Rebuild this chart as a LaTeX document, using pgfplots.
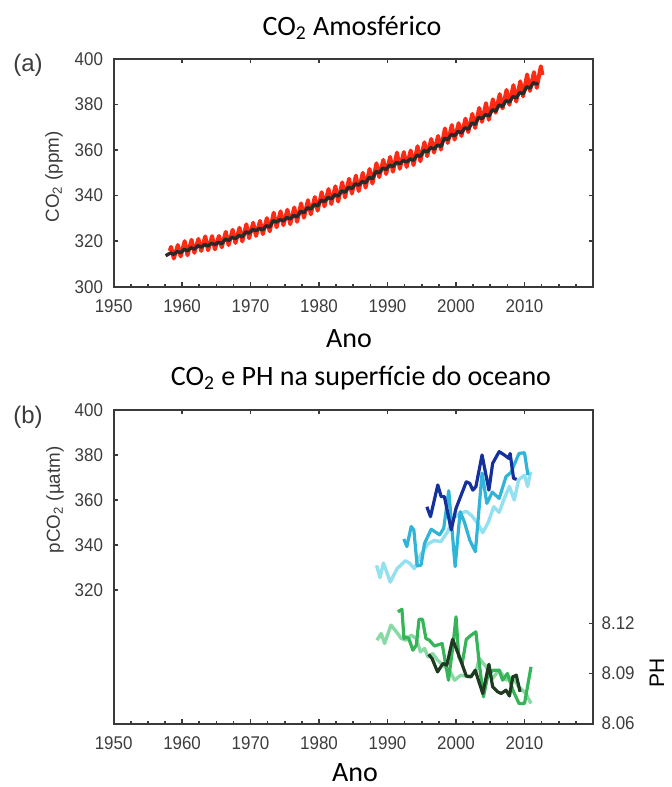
\documentclass[border=0pt]{standalone}
\usepackage{fontspec}
\usepackage{pgfplots}
\pgfplotsset{compat=1.18}
\setmainfont{Carlito}
\newfontfamily\arialf{Liberation Sans}
\newfontfamily\tickf[FakeStretch=0.92]{Liberation Sans}

\definecolor{axgray}{HTML}{3A3A3A}
\definecolor{lblgray}{HTML}{3C3C3C}
\definecolor{mlred}{HTML}{FF2A14}
\definecolor{spblack}{HTML}{2A2A2A}
\definecolor{bluelight}{HTML}{93E0F0}
\definecolor{bluemid}{HTML}{30B4D8}
\definecolor{bluedark}{HTML}{15309A}
\definecolor{greenlight}{HTML}{8AD9A5}
\definecolor{greenmid}{HTML}{35B558}
\definecolor{greendark}{HTML}{1E3A20}

\pgfplotsset{
  panel/.style={
    scale only axis, anchor=north west,
    width=239.7pt,
    xmin=1950, xmax=2020,
    tick align=inside,
    major tick length=2.2pt, minor tick length=1.4pt,
    axis line style={axgray, line width=1pt},
    every tick/.style={axgray, line width=0.8pt},
    ticklabel style={font=\tickf\fontsize{9.2}{10}\selectfont, text=lblgray},
    xticklabel style={yshift=-3pt},
    yticklabel style={xshift=-1.8pt},
    clip=false,
  },
}

\begin{document}
\begin{tikzpicture}
\path[use as bounding box] (0pt,0pt) rectangle (336pt,-393.5pt);

% ---------- (a) atmospheric CO2 ----------
\begin{axis}[panel,
  at={(56.8pt,-29.5pt)}, height=113.85pt,
  ymin=300, ymax=400,
  xtick={1950,1960,...,2020},
  xticklabels={1950,1960,1970,1980,1990,2000,2010,},
  minor x tick num=3, xtick pos=bottom,
  ytick={300,320,...,400},
  yticklabels={300,320,340,360,380,400},
  ytick pos=both,
]
\addplot[mlred, line width=2pt, line join=round] coordinates {
(1958.2,315.7)
(1958.38,317.5)(1958.79,312.4)
(1959.38,318.3)(1959.79,313.3)
(1960.38,320.0)(1960.79,313.8)
(1961.38,320.6)(1961.79,314.9)
(1962.38,321.0)(1962.79,315.7)
(1963.38,322.1)(1963.79,316.0)
(1964.38,322.2)(1964.79,316.4)
(1965.38,322.3)(1965.79,317.3)
(1966.38,324.1)(1966.79,318.3)
(1967.38,325.0)(1967.79,319.2)
(1968.38,325.9)(1968.79,319.9)
(1969.38,327.4)(1969.79,321.3)
(1970.38,328.1)(1970.79,322.3)
(1971.38,328.9)(1971.79,323.1)
(1972.38,330.1)(1972.79,324.3)
(1973.38,332.5)(1973.79,326.1)
(1974.38,333.1)(1974.79,327.0)
(1975.38,333.8)(1975.79,327.5)
(1976.38,334.8)(1976.79,328.5)
(1977.38,336.6)(1977.79,330.3)
(1978.38,338.0)(1978.79,331.8)
(1979.38,339.4)(1979.79,333.4)
(1980.38,341.5)(1980.79,335.3)
(1981.38,342.9)(1981.79,336.3)
(1982.38,344.1)(1982.79,337.4)
(1983.38,345.8)(1983.79,339.2)
(1984.38,347.4)(1984.79,340.9)
(1985.38,348.8)(1985.79,342.0)
(1986.38,350.0)(1986.79,343.5)
(1987.38,351.7)(1987.79,345.3)
(1988.38,354.2)(1988.79,348.1)
(1989.38,355.7)(1989.79,349.5)
(1990.38,357.0)(1990.79,350.5)
(1991.38,358.9)(1991.79,351.8)
(1992.38,359.1)(1992.79,352.6)
(1993.38,359.8)(1993.79,353.4)
(1994.38,361.7)(1994.79,355.1)
(1995.38,363.4)(1995.79,357.3)
(1996.38,364.9)(1996.79,358.9)
(1997.38,366.2)(1997.79,360.2)
(1998.38,369.5)(1998.79,363.1)
(1999.38,371.0)(1999.79,364.6)
(2000.38,371.8)(2000.79,366.2)
(2001.38,373.8)(2001.79,367.9)
(2002.38,375.9)(2002.79,369.7)
(2003.38,378.5)(2003.79,372.4)
(2004.38,380.6)(2004.79,373.3)
(2005.38,382.3)(2005.79,376.4)
(2006.38,384.6)(2006.79,378.3)
(2007.38,386.4)(2007.79,379.9)
(2008.38,388.5)(2008.79,381.3)
(2009.38,390.2)(2009.79,383.6)
(2010.38,393.2)(2010.79,386.0)
(2011.38,394.2)(2011.79,387.3)
(2012.38,396.8)(2012.62,393.0)
};
\addplot[spblack, line width=1.7pt, line join=round] coordinates {
(1957.6,313.6)
(1958.3,314.8)(1958.8,314.2)
(1959.3,315.5)(1959.8,314.9)
(1960.3,316.4)(1960.8,315.8)
(1961.3,317.1)(1961.8,316.5)
(1962.3,318.0)(1962.8,317.4)
(1963.3,318.5)(1963.8,317.9)
(1964.3,319.1)(1964.8,318.5)
(1965.3,319.5)(1965.8,318.9)
(1966.3,320.9)(1966.8,320.3)
(1967.3,321.7)(1967.8,321.1)
(1968.3,322.5)(1968.8,321.9)
(1969.3,324.1)(1969.8,323.5)
(1970.3,325.2)(1970.8,324.6)
(1971.3,325.6)(1971.8,325.0)
(1972.3,326.8)(1972.8,326.2)
(1973.3,329.0)(1973.8,328.4)
(1974.3,329.5)(1974.8,328.9)
(1975.3,330.4)(1975.8,329.8)
(1976.3,331.3)(1976.8,330.7)
(1977.3,333.1)(1977.8,332.5)
(1978.3,334.7)(1978.8,334.1)
(1979.3,336.1)(1979.8,335.5)
(1980.3,338.0)(1980.8,337.4)
(1981.3,339.2)(1981.8,338.6)
(1982.3,340.4)(1982.8,339.8)
(1983.3,342.1)(1983.8,341.5)
(1984.3,343.7)(1984.8,343.1)
(1985.3,345.2)(1985.8,344.6)
(1986.3,346.2)(1986.8,345.6)
(1987.3,348.0)(1987.8,347.4)
(1988.3,350.6)(1988.8,350.0)
(1989.3,352.1)(1989.8,351.5)
(1990.3,353.4)(1990.8,352.8)
(1991.3,354.6)(1991.8,354.0)
(1992.3,355.4)(1992.8,354.8)
(1993.3,356.1)(1993.8,355.5)
(1994.3,357.8)(1994.8,357.2)
(1995.3,359.8)(1995.8,359.2)
(1996.3,361.1)(1996.8,360.5)
(1997.3,362.2)(1997.8,361.6)
(1998.3,365.2)(1998.8,364.6)
(1999.3,366.9)(1999.8,366.3)
(2000.3,368.2)(2000.8,367.6)
(2001.3,369.8)(2001.8,369.2)
(2002.3,371.9)(2002.8,371.3)
(2003.3,374.4)(2003.8,373.8)
(2004.3,375.6)(2004.8,375.0)
(2005.3,377.7)(2005.8,377.1)
(2006.3,379.8)(2006.8,379.2)
(2007.3,381.7)(2007.8,381.1)
(2008.3,383.5)(2008.8,382.9)
(2009.3,385.3)(2009.8,384.7)
(2010.3,387.8)(2010.8,387.2)
(2011.3,389.6)(2011.8,389.0)
(2012.0,389.5)
};
\end{axis}
% top-edge major ticks of (a)
\begin{axis}[panel,
  at={(56.8pt,-29.5pt)}, height=113.85pt,
  ymin=300, ymax=400,
  axis x line*=top, axis y line=none,
  xtick={1960,1970,...,2010}, xticklabels={},
]
\end{axis}

% ---------- (b) ocean pCO2 ----------
\begin{axis}[panel,
  at={(56.8pt,-205pt)}, height=156.75pt,
  ymin=260.67, ymax=400,
  xtick={1950,1960,...,2020},
  xticklabels={1950,1960,1970,1980,1990,2000,2010,},
  minor x tick num=3, xtick pos=bottom,
  ytick={320,340,...,400},
  yticklabels={320,340,360,380,400},
  ytick pos=left,
]
\addplot[bluelight, line width=1.7pt, line join=round] coordinates {
(1988.4,331)(1988.9,325.5)(1989.4,332)(1990.4,323.5)(1991.4,329.5)
(1992.6,333)(1993.2,332)(1993.9,329.5)(1994.9,336)(1995.9,340.5)
(1996.8,342)(1997.8,341.5)(1998.8,346)(1999.6,352)(2000.6,354)
(2001.5,355)(2002.3,353)(2003.2,349.5)(2003.9,345.5)(2004.7,350)
(2005.5,357)(2006.3,354.5)(2007.05,360.7)(2007.8,366)(2008.5,360)
(2009.15,369)(2010.0,371)(2010.45,366)(2010.9,372.5)
};
\addplot[bluemid, line width=1.6pt, line join=round] coordinates {
(1992.38,342.7)(1992.82,339.3)(1993.45,348.2)(1993.84,346.7)(1994.33,330.7)
(1994.9,331.1)(1995.4,340.7)(1996.37,347.0)(1997.6,344.5)(1998.2,347.4)
(1998.94,364.1)(1999.87,330.4)(2000.6,354.8)(2001.2,350.4)(2002.0,342.2)
(2002.83,337.0)(2003.8,372.0)(2004.5,358.5)(2005.3,363.5)(2006.3,360.7)
(2007.3,370.4)(2008.0,372.2)(2009.2,380.7)(2010.0,381.0)(2010.5,371.1)
};
\addplot[bluedark, line width=1.6pt, line join=round] coordinates {
(1995.74,357.0)(1996.27,352.6)(1997.34,366.7)(1997.83,361.5)(1998.3,361.5)
(1999.3,346.7)(2000.0,356.3)(2001.5,368.1)(2002.0,367.4)(2002.45,364.4)
(2002.9,365.9)(2003.8,380.0)(2004.8,364.4)(2005.35,376.3)(2006.3,381.5)
(2007.05,380.0)(2007.7,378.5)(2007.9,380.7)(2008.4,369.6)(2008.85,369.2)
};
\end{axis}

% ---------- (b) ocean pH ----------
\begin{axis}[panel,
  at={(56.8pt,-205pt)}, height=156.75pt,
  ymin=8.06, ymax=8.2481,
  axis x line*=top, axis y line*=right,
  xtick={1960,1970,...,2010}, xticklabels={},
  ytick={8.06,8.09,8.12},
  yticklabels={8.06,8.09,8.12},
  yticklabel style={xshift=2.6pt},
]
\addplot[greenlight, line width=1.7pt, line join=round] coordinates {
(1988.45,8.110)(1989.08,8.114)(1989.57,8.108)(1990.5,8.119)(1991.3,8.115)
(1992.0,8.111)(1992.7,8.110)(1993.45,8.113)(1994.2,8.111)(1994.8,8.103)
(1995.4,8.105)(1995.9,8.100)(1996.6,8.102)(1997.3,8.098)(1998.1,8.095)
(1999.0,8.092)(1999.8,8.086)(2000.7,8.089)(2001.96,8.088)(2002.9,8.091)
(2003.4,8.099)(2004.4,8.094)(2005.3,8.087)(2006.3,8.092)(2007.3,8.086)
(2008.2,8.088)(2009.2,8.082)(2010.2,8.078)(2010.95,8.072)
};
\addplot[greenmid, line width=1.6pt, line join=round] coordinates {
(1991.5,8.127)(1992.1,8.1285)(1992.4,8.111)(1992.7,8.112)(1993.1,8.111)
(1993.7,8.104)(1994.2,8.107)(1994.6,8.1225)(1995.1,8.1225)(1995.6,8.111)
(1996.1,8.110)(1996.85,8.1065)(1997.97,8.108)(1998.9,8.086)(1999.5,8.105)
(2000.0,8.124)(2000.4,8.100)(2000.9,8.096)(2001.5,8.1105)(2002.2,8.113)
(2002.9,8.115)(2003.4,8.096)(2004.0,8.076)(2004.6,8.088)(2005.35,8.092)
(2006.3,8.092)(2006.8,8.086)(2007.5,8.090)(2008.3,8.080)(2009.2,8.072)
(2010.0,8.072)(2010.95,8.094)
};
\addplot[greendark, line width=1.6pt, line join=round] coordinates {
(1996.0,8.1015)(1996.5,8.099)(1997.3,8.091)(1998.1,8.096)(1998.65,8.095)
(1999.5,8.1105)(2000.5,8.100)(2001.5,8.0885)(2002.2,8.088)(2002.8,8.092)
(2003.9,8.078)(2004.8,8.0955)(2005.35,8.082)(2006.1,8.079)(2006.6,8.078)
(2007.3,8.080)(2007.8,8.0765)(2008.3,8.088)(2008.8,8.089)(2009.35,8.079)
};
\end{axis}

% ---------- titles and labels ----------
\node[anchor=base, font=\fontsize{14}{16}\selectfont] at (176pt,-17.5pt) {CO\textsubscript{2} Amosférico};
\node[anchor=base, font=\fontsize{14}{16}\selectfont] at (174.5pt,-173.5pt) {Ano};
\node[anchor=base, font=\fontsize{14}{16}\selectfont] at (180.5pt,-192.5pt) {CO\textsubscript{2} e PH na superfície do oceano};
\node[anchor=base, font=\fontsize{14}{16}\selectfont] at (177.5pt,-390.5pt) {Ano};
\node[font=\arialf\fontsize{12}{14}\selectfont, text=lblgray] at (14pt,-32.5pt) {(a)};
\node[font=\arialf\fontsize{12}{14}\selectfont, text=lblgray] at (14pt,-208.5pt) {(b)};
\node[rotate=90, font=\arialf\fontsize{9.4}{11}\selectfont, text=lblgray] at (27pt,-88.5pt) {CO\textsubscript{2} (ppm)};
\node[rotate=90, font=\arialf\fontsize{9.4}{11}\selectfont, text=lblgray] at (27.5pt,-250pt) {pCO\textsubscript{2} (µatm)};
\node[rotate=90, font=\arialf\fontsize{10.5}{12}\selectfont] at (328.5pt,-336.5pt) {PH};
\end{tikzpicture}
\end{document}
